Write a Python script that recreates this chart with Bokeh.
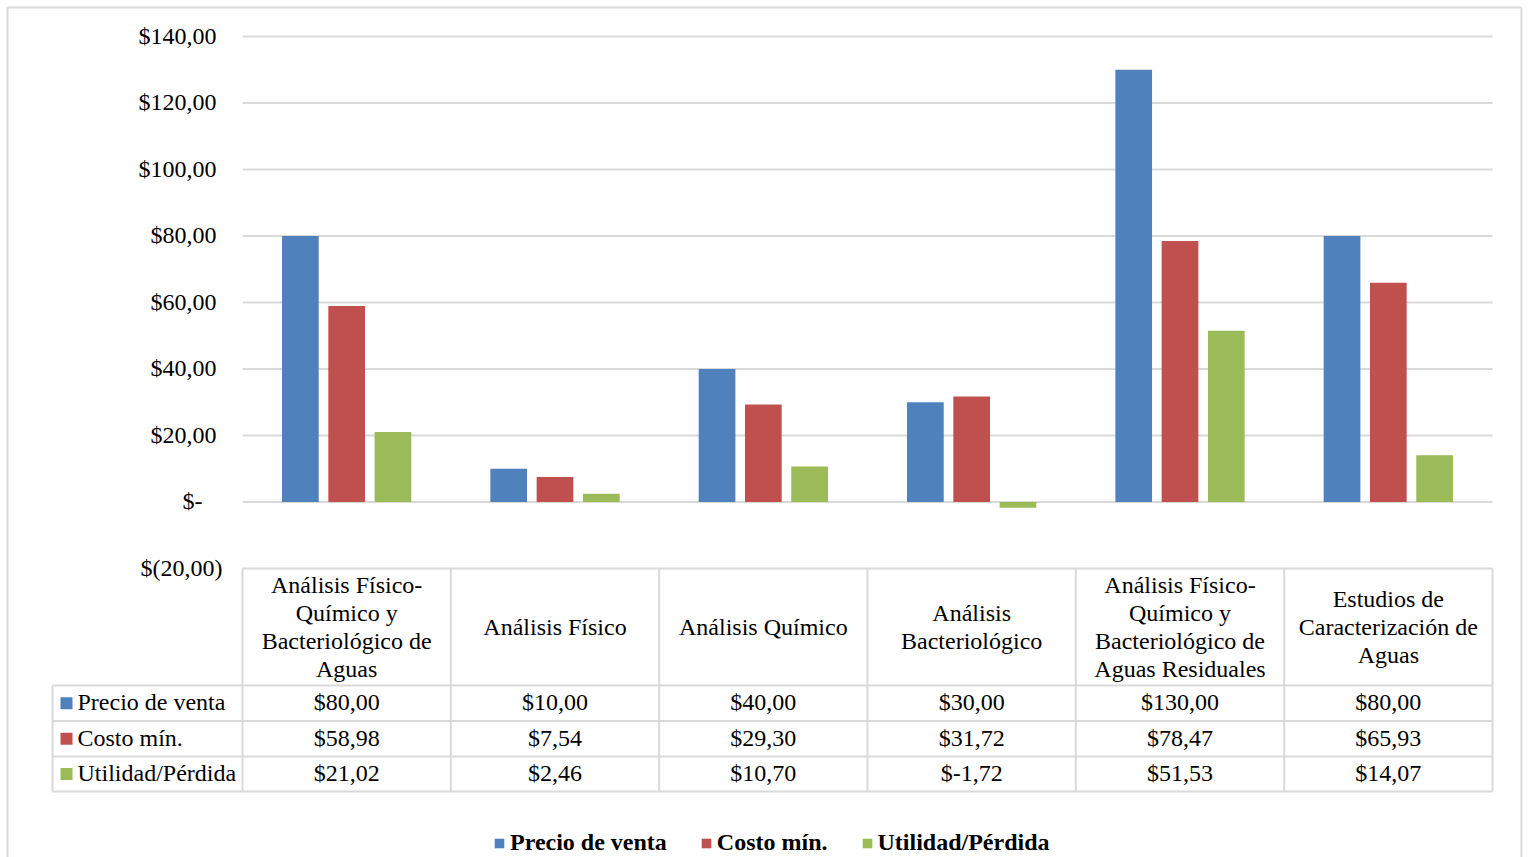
from bokeh.plotting import figure
from bokeh.models import Range1d, Legend, LegendItem, ColumnDataSource
from bokeh.core.properties import value
from bokeh.embed import file_html
from bokeh.resources import INLINE

# ---------------- data ----------------
categories = [
    "Análisis Físico-\nQuímico y\nBacteriológico de\nAguas",
    "Análisis Físico",
    "Análisis Químico",
    "Análisis\nBacteriológico",
    "Análisis Físico-\nQuímico y\nBacteriológico de\nAguas Residuales",
    "Estudios de\nCaracterización de\nAguas",
]
series_names = ["Precio de venta", "Costo mín.", "Utilidad/Pérdida"]
precio = [80.00, 10.00, 40.00, 30.00, 130.00, 80.00]
costo = [58.98, 7.54, 29.30, 31.72, 78.47, 65.93]
utilidad = [21.02, 2.46, 10.70, -1.72, 51.53, 14.07]
y_ticks = [-20, 0, 20, 40, 60, 80, 100, 120, 140]

# ---------------- style ----------------
colors = ["#4F81BD", "#C0504D", "#9BBB59"]
grid_color = "#D9D9D9"
FONT = value("Liberation Serif")
FS = "24px"
W, H = 1528, 857
# pixel geometry of the plot area
PX_LEFT, PX_RIGHT, PX_TOP_VAL, PX_BOT_VAL = 242, 1492, 36, 568
Y_MAX, Y_MIN = 140, -20
PX_PER_X = (PX_RIGHT - PX_LEFT) / len(categories)
PX_PER_Y = (PX_BOT_VAL - PX_TOP_VAL) / (Y_MAX - Y_MIN)


def xd(px):
    return (px - PX_LEFT) / PX_PER_X


def yd(py):
    return Y_MAX - (py - PX_TOP_VAL) / PX_PER_Y


def money_axis(v):
    if v == 0:
        return "$-"
    s = f"{abs(v):.2f}".replace(".", ",")
    return f"$({s})" if v < 0 else f"${s}"


def money_table(v):
    return "$" + f"{v:.2f}".replace(".", ",")


p = figure(width=W, height=H, output_backend="svg", toolbar_location=None,
           x_axis_type=None, y_axis_type=None,
           x_range=Range1d(xd(0), xd(W)), y_range=Range1d(yd(H), yd(0)),
           min_border_left=0, min_border_right=0, min_border_top=0, min_border_bottom=0)
p.outline_line_color = None
p.background_fill_color = "white"
p.border_fill_color = "white"

n = len(categories)

# outer chart border
p.segment(x0=[xd(7), xd(7), xd(1521)], y0=[yd(7), yd(7), yd(7)],
          x1=[xd(7), xd(1521), xd(1521)], y1=[yd(H + 5), yd(7), yd(H + 5)],
          line_color=grid_color, line_width=2)

# horizontal gridlines (incl. zero line and table top)
p.segment(x0=[0] * len(y_ticks), x1=[n] * len(y_ticks), y0=y_ticks, y1=y_ticks,
          line_color=grid_color, line_width=2)

# y tick labels
tick_offsets = [0 if t < 0 else (-20 if t == 0 else -6) for t in y_ticks]
p.text(x=[xd(222)] * len(y_ticks), y=y_ticks, text=[money_axis(t) for t in y_ticks],
       x_offset=tick_offsets, y_offset=-1, text_align="right", text_baseline="middle",
       text_font=FONT, text_font_size=FS, text_color="black")

# bars
bar_w = 36.7 / PX_PER_X
pitch = 46.3 / PX_PER_X
renderers = []
for k, (vals, col) in enumerate(zip([precio, costo, utilidad], colors)):
    xs = [i + 0.5 + (k - 1) * pitch for i in range(n)]
    src = ColumnDataSource(dict(x=xs, top=vals))
    r = p.vbar(x="x", top="top", bottom=0, width=bar_w, source=src,
               fill_color=col, line_color=None)
    renderers.append(r)

# ---------------- data table ----------------
row_tops = [685, 720.5, 756, 791]
row_centers = [(row_tops[i] + row_tops[i + 1]) / 2 for i in range(3)]
# horizontal table lines
p.segment(x0=[xd(52)] * 4, x1=[n] * 4, y0=[yd(v) for v in row_tops], y1=[yd(v) for v in row_tops],
          line_color=grid_color, line_width=2)
# vertical table lines
p.segment(x0=list(range(n + 1)), x1=list(range(n + 1)), y0=[Y_MIN] * (n + 1),
          y1=[yd(791)] * (n + 1), line_color=grid_color, line_width=2)
p.segment(x0=[xd(52)], x1=[xd(52)], y0=[yd(685)], y1=[yd(791)], line_color=grid_color, line_width=2)

# header (category names)
p.text(x=[i + 0.5 for i in range(n)], y=[yd((568 + 685) / 2)] * n, text=categories,
       text_align="center", text_baseline="middle", text_line_height=1.07,
       text_font=FONT, text_font_size=FS, text_color="black")

# row labels with legend keys
p.scatter(x=[xd(66)] * 3, y=[yd(c) for c in row_centers], marker="square", size=12,
          fill_color=colors, line_color=None)
p.text(x=[xd(77)] * 3, y=[yd(c) for c in row_centers], text=series_names,
       y_offset=-1, text_align="left", text_baseline="middle",
       text_font=FONT, text_font_size=FS, text_color="black")

# values
for k, vals in enumerate([precio, costo, utilidad]):
    p.text(x=[i + 0.5 for i in range(n)], y=[yd(row_centers[k])] * n,
           text=[money_table(v) for v in vals], y_offset=-1,
           text_align="center", text_baseline="middle",
           text_font=FONT, text_font_size=FS, text_color="black")

# ---------------- legend ----------------
legend = Legend(items=[LegendItem(label=nm, renderers=[r]) for nm, r in zip(series_names, renderers)],
                orientation="horizontal", location=(493, 1),
                label_text_font="Liberation Serif", label_text_font_style="bold",
                label_text_font_size=FS, label_text_color="black",
                glyph_width=12, glyph_height=12, label_standoff=5, spacing=33,
                padding=0, margin=0, border_line_color=None, background_fill_alpha=0)
p.add_layout(legend)

open("out.html", "w").write(file_html(p, INLINE))
